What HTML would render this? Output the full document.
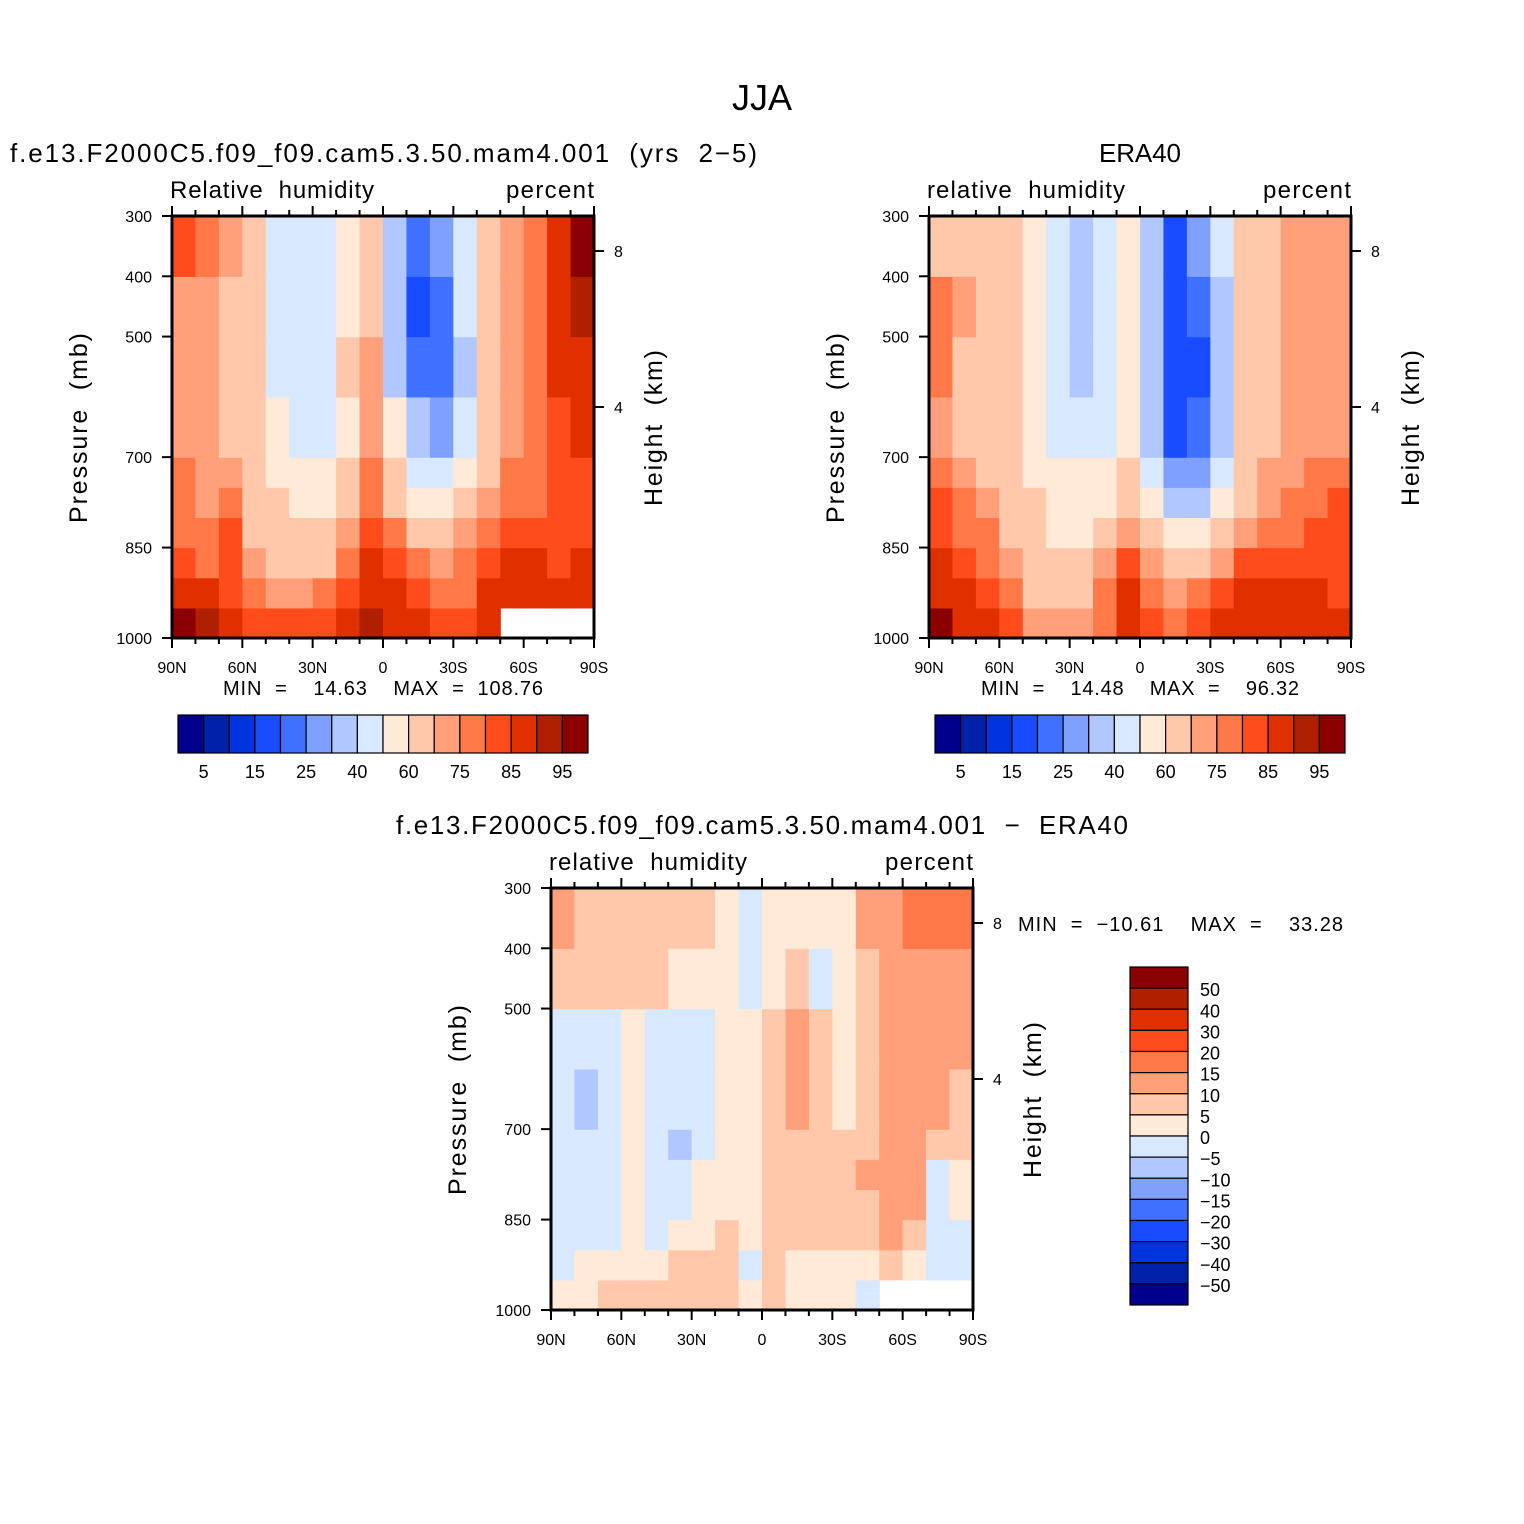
<!DOCTYPE html>
<html><head><meta charset="utf-8"><style>
body{margin:0;background:#fff}
svg{display:block}
text{font-family:"Liberation Sans",sans-serif;fill:#000;white-space:pre}
</style></head><body>
<svg id="fig" width="1524" height="1524" viewBox="0 0 1524 1524" xml:space="preserve">
<text x="762" y="110" font-size="36" text-anchor="middle">JJA</text>
</svg>
<script>
// ---- data ----
const lats = ["85N","75N","65N","55N","45N","35N","25N","15N","5N","5S","15S","25S","35S","45S","55S","65S","75S","85S"];
const presEdges = [1000,950,900,850,800,750,700,600,500,400,300];
const rhLevels = [5,10,15,20,25,30,40,50,60,70,75,80,85,90,95];
const diffLevels = [-50,-40,-30,-20,-15,-10,-5,0,5,10,15,20,30,40,50];
const rhTickLabels = ["5","15","25","40","60","75","85","95"];
const diffTickLabels = ["50","40","30","20","15","10","5","0","\u22125","\u221210","\u221215","\u221220","\u221230","\u221240","\u221250"];
const xTickLabels = ["90N","60N","30N","0","30S","60S","90S"];
const pTicks = [300,400,500,700,850,1000];
const modelRH = [
[95,88,80,78,75,75,72,72,72,80],
[90,85,78,75,72,72,70,70,70,75],
[85,82,80,80,78,72,68,65,65,70],
[82,78,72,68,65,62,62,60,60,60],
[80,72,65,62,60,55,50,45,45,45],
[80,72,65,60,55,50,45,45,45,45],
[80,75,68,62,58,52,45,45,45,45],
[85,82,78,72,68,62,58,60,58,55],
[90,88,85,82,78,75,72,70,65,60],
[88,85,82,75,68,60,50,38,35,35],
[85,80,75,65,55,45,30,20,18,22],
[80,75,70,60,50,40,28,22,22,28],
[80,78,75,70,62,55,42,38,40,45],
[88,85,80,78,72,68,65,65,65,68],
[null,88,85,80,78,75,72,72,72,72],
[null,88,85,80,78,75,75,75,75,78],
[null,85,82,80,80,80,82,85,85,88],
[null,85,85,82,82,82,85,88,92,96]];
const eraRH = [
[95,88,85,82,80,75,72,75,75,65],
[85,85,82,78,75,70,68,68,70,65],
[85,82,78,75,72,68,65,65,62,62],
[80,75,70,68,65,62,60,60,60,62],
[72,68,65,62,60,58,55,52,50,50],
[70,65,62,58,55,50,45,42,40,40],
[72,68,62,58,55,50,42,38,32,30],
[78,75,70,62,58,52,48,45,45,45],
[88,85,80,72,65,60,55,55,55,55],
[82,78,72,62,55,45,38,30,30,35],
[78,72,62,50,38,25,18,15,15,18],
[80,75,65,50,35,28,22,18,20,25],
[85,80,72,60,50,42,35,35,38,45],
[88,85,80,72,68,62,60,60,60,60],
[88,85,80,75,72,70,65,65,65,65],
[85,85,80,78,75,72,70,70,70,70],
[85,85,80,80,78,75,72,70,70,72],
[85,82,80,80,80,75,72,72,72,72]];
const diffRH = [
[3,-2,-2,-3,-3,-3,-2,-3,8,12],
[3,1,-2,-2,-3,-2,-6,-2,8,8],
[5,2,-2,-2,-2,-2,-2,-2,7,8],
[6,3,2,2,1,1,2,2,6,7],
[6,3,-1,-2,-2,-2,-2,-2,6,8],
[8,5,2,-2,-3,-6,-3,-2,2,8],
[8,6,4,2,1,-1,-2,-2,2,7],
[8,7,5,3,3,2,2,3,3,3],
[2,-1,1,1,2,2,2,1,-1,-1],
[6,6,8,8,7,7,8,8,3,3],
[2,3,5,6,6,7,10,12,5,2],
[3,3,5,7,7,8,8,5,-1,3],
[3,4,6,6,6,5,4,4,3,3],
[-2,3,6,8,10,9,8,7,8,10],
[null,7,12,12,12,11,11,11,12,14],
[null,4,6,10,12,12,13,12,12,16],
[null,-2,-3,-2,-2,8,10,12,14,18],
[null,-3,-2,2,3,5,8,10,14,17]];
const palette = ["#00008C","#0022AA","#0033DD","#1A4CFF","#4070FF","#80A0FF","#B0C8FF","#D8E8FF","#FFEAD8","#FFC8AA","#FFA07A","#FF7848","#FF4C1C","#E03000","#B02000","#8B0000"];

const NS="http://www.w3.org/2000/svg";
const fig=document.getElementById('fig');
function mk(tag,attrs,parent){const e=document.createElementNS(NS,tag);for(const k in attrs)e.setAttribute(k,attrs[k]);(parent||fig).appendChild(e);return e;}
function txt(x,y,s,size,anchor,parent,len){const a={x:x,y:y,'font-size':size,'text-anchor':anchor||'start'};if(len){a.textLength=len;a.lengthAdjust='spacing';}const t=mk('text',a,parent);t.textContent=s;return t;}
function colorOf(v,levels){let i=0;while(i<levels.length&&v>=levels[i])i++;return palette[i];}

function panel(name,x0,y0,data,levels,leftT,rightT,leftLen,rightLen){
  const W=422,H=422;
  const g=mk('g',{});
  
  
  const xs=lat=>x0+(90-lat)/180*W;
  const ys=p=>y0+(p-300)/700*H;
  for(let c=0;c<data.length;c++){
    const latTop=90-10*c;
    for(let r=0;r<presEdges.length-1;r++){
      const v=data[c][r]; if(v===null)continue;
      const xa=xs(latTop),xb=xs(latTop-10),ya=ys(presEdges[r+1]),yb=ys(presEdges[r]);
      const rc=mk('rect',{x:xa,y:ya,width:xb-xa+0.6,height:yb-ya+0.6,fill:colorOf(v,levels)},g);
      
      
    }
  }
  mk('rect',{x:x0,y:y0,width:W,height:H,fill:'none',stroke:'#000','stroke-width':3},g);
  for(let d=0;d<=180;d+=10){
    const x=x0+d/180*W, maj=d%30===0;
    mk('line',{x1:x,y1:y0+H,x2:x,y2:y0+H+(maj?10:6),stroke:'#000','stroke-width':2},g);
    mk('line',{x1:x,y1:y0,x2:x,y2:y0-(maj?10:6),stroke:'#000','stroke-width':2},g);
  }
  xTickLabels.forEach((s,i)=>{const t=txt(x0+i*30/180*W,y0+H+35,s,16,'middle',g);});
  pTicks.forEach(p=>{const y=ys(p);mk('line',{x1:x0-10,y1:y,x2:x0,y2:y,stroke:'#000','stroke-width':2},g);
    const t=txt(x0-20,y+6,String(p),16,'end',g);});
  [[8,35],[4,191]].forEach(([h,dy])=>{mk('line',{x1:x0+W,y1:y0+dy,x2:x0+W+10,y2:y0+dy,stroke:'#000','stroke-width':2},g);txt(x0+W+20,y0+dy+6,String(h),16,'start',g);});
  let t=txt(x0-2,y0-18,leftT,24,'start',g,leftLen);
  t=txt(x0+W,y0-18,rightT,24,'end',g,rightLen);
  t=txt(0,0,'Pressure  (mb)',25,'middle',g,190);t.setAttribute('transform',`translate(${x0-85},${y0+212}) rotate(-90)`);
  
  t=txt(0,0,'Height  (km)',25,'middle',g,156);t.setAttribute('transform',`translate(${x0+W+68},${y0+212}) rotate(-90)`);
  
}
function hbar(name,x0,y0){
  const g=mk('g',{});
  const w=410/16;
  palette.forEach((c,i)=>{const r=mk('rect',{x:x0+i*w,y:y0,width:w,height:38,fill:c,stroke:'#000','stroke-width':1.2},g);});
  rhTickLabels.forEach((s,i)=>txt(x0+(2*i+1)*w,y0+63,s,18,'middle',g));
}
function vbar(name,x0,y0){
  const g=mk('g',{});
  const h=338/16;
  for(let i=0;i<16;i++){const r=mk('rect',{x:x0,y:y0+i*h,width:58,height:h,fill:palette[15-i],stroke:'#000','stroke-width':1.2},g);}
  diffTickLabels.forEach((s,i)=>txt(x0+70,y0+(i+1)*h+8,s,18,'start',g));
}
panel('model-panel',172,216,modelRH,rhLevels,'Relative  humidity','percent',204,88);
panel('era40-panel',929,216,eraRH,rhLevels,'relative  humidity','percent',198,88);
panel('difference-panel',551,888,diffRH,diffLevels,'relative  humidity','percent',198,88);
hbar('model-colorbar',178,715);
hbar('era40-colorbar',935,715);
vbar('difference-colorbar',1130,967);
let t;
t=txt(10,162,'f.e13.F2000C5.f09_f09.cam5.3.50.mam4.001  (yrs  2\u22125)',26,'start',null,747);
t=txt(1140,162,'ERA40',26,'middle',null,82);
t=txt(762,834,'f.e13.F2000C5.f09_f09.cam5.3.50.mam4.001  \u2212  ERA40',26,'middle',null,732);
t=txt(383,695,'MIN  =    14.63    MAX  =  108.76',20,'middle',null,320);
t=txt(1140,695,'MIN  =    14.48    MAX  =    96.32',20,'middle',null,318);
t=txt(1018,931,'MIN  =  \u221210.61    MAX  =    33.28',20,'start',null,325);
</script>
</body></html>
